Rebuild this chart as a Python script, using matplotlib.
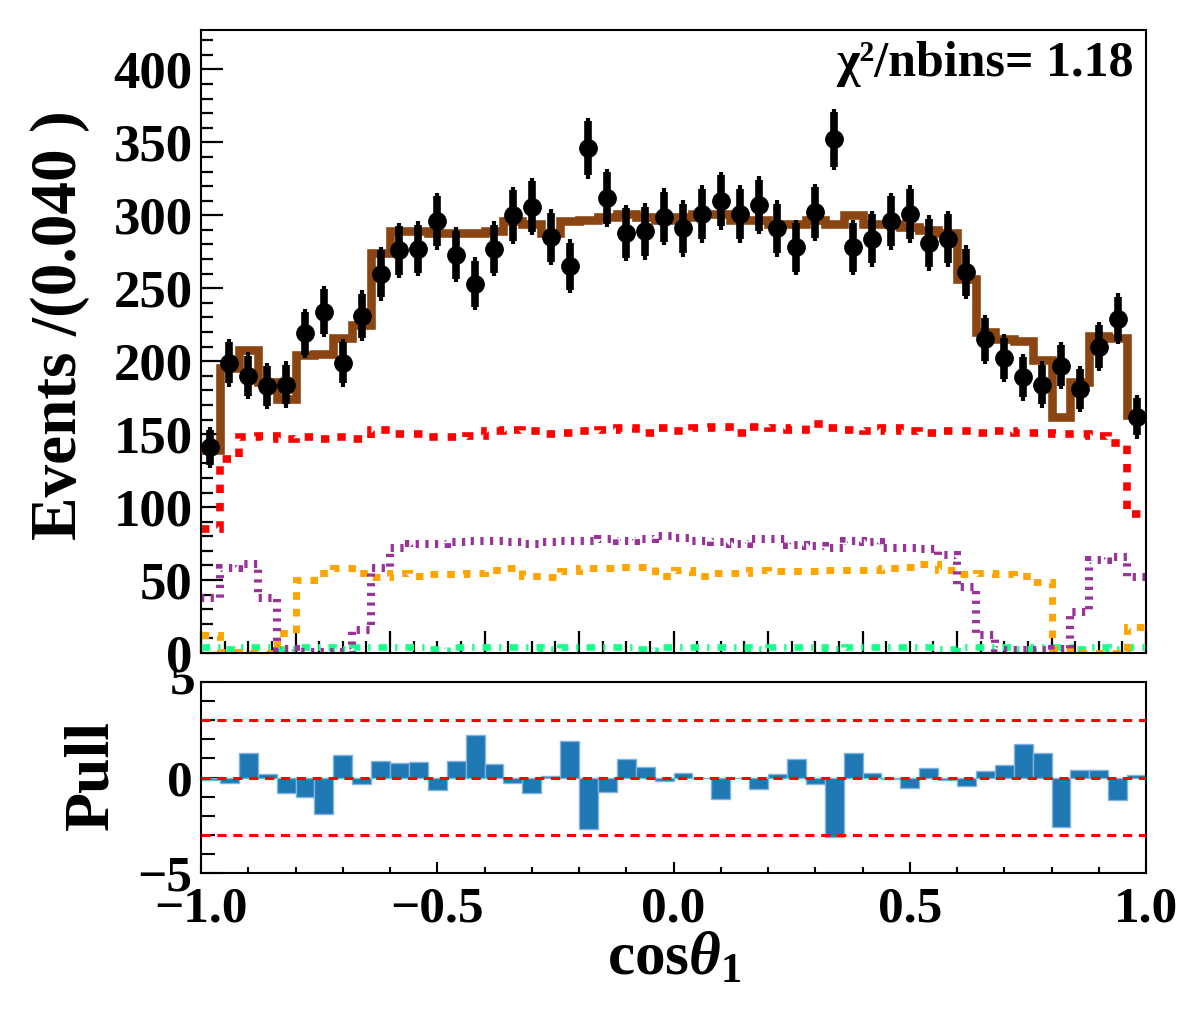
import numpy as np
import matplotlib
matplotlib.use('Agg')
import matplotlib.pyplot as plt
from matplotlib.ticker import MultipleLocator
from matplotlib.transforms import Bbox, TransformedBbox

# 50 bins of width 0.04 in cos(theta1)
edges = np.linspace(-1.0, 1.0, 51)
centers = 0.5 * (edges[:-1] + edges[1:])

data = [141, 199, 190, 183, 184, 219, 234, 199, 231, 260,
        276, 277, 296, 273, 253, 277, 300, 306, 285, 265,
        346, 312, 288, 289, 299, 291, 301, 310, 301, 307,
        291, 278, 302, 352, 278, 284, 296, 301, 281, 284,
        261, 215, 202, 189, 184, 197, 181, 210, 229, 162]

fit = [139, 195, 208, 186, 174, 204, 205, 216, 225, 274,
       289, 289, 288, 288, 288, 289, 296, 294, 288, 296,
       297, 299, 301, 299, 297, 299, 301, 301, 297, 297,
       294, 294, 297, 294, 300, 294, 294, 292, 290, 288,
       256, 220, 215, 214, 201, 162, 186, 217, 216, 163]

comp_red = [85, 133, 148, 149, 147, 148, 147, 148, 147, 153,
            150, 150, 148, 148, 149, 152, 153, 152, 150, 151,
            152, 153, 154, 151, 154, 152, 154, 155, 151, 155,
            154, 153, 157, 154, 153, 152, 154, 152, 151, 152,
            152, 151, 152, 151, 151, 150, 150, 149, 144, 95]

comp_purple = [38, 58, 61, 38, 3, 1, 1, 1, 16, 58,
               72, 75, 75, 76, 77, 77, 76, 75, 76, 77,
               77, 78, 77, 78, 80, 79, 77, 76, 75, 78,
               78, 74, 73, 72, 77, 76, 72, 72, 71, 67,
               45, 12, 2, 2, 2, 3, 28, 64, 66, 52]

comp_orange = [12, 1, 0, 0, 14, 50, 55, 58, 55, 52,
               55, 53, 54, 54, 55, 57, 58, 53, 52, 56,
               58, 58, 59, 59, 53, 57, 53, 55, 55, 57,
               56, 56, 56, 57, 57, 57, 58, 59, 61, 57,
               54, 55, 54, 53, 49, 3, 0, 0, 0, 18]

comp_green = [4, 3, 4, 4, 3, 4, 4, 3, 4, 4,
              4, 4, 3, 4, 4, 4, 4, 4, 3, 4,
              4, 4, 4, 3, 4, 4, 4, 4, 4, 3,
              4, 4, 4, 3, 4, 4, 4, 4, 4, 3,
              4, 4, 4, 3, 4, 4, 3, 4, 3, 4]

pull = [-0.15, -0.3, 1.3, 0.2, -0.8, -1.0, -1.9, 1.2, -0.33, 0.87,
        0.78, 0.8, -0.68, 0.87, 2.2, 0.7, -0.3, -0.8, 0.1, 1.9,
        -2.7, -0.75, 0.95, 0.55, -0.2, 0.22, -0.05, -1.15, -0.02, -0.62,
        0.2, 0.97, -0.35, -3.1, 1.3, 0.22, -0.08, -0.55, 0.52, -0.14,
        -0.47, 0.35, 0.68, 1.75, 1.3, -2.6, 0.38, 0.4, -1.18, 0.12]

plt.rcParams['font.family'] = 'Liberation Serif'
plt.rcParams['font.weight'] = 'bold'
plt.rcParams['mathtext.fontset'] = 'custom'
plt.rcParams['mathtext.rm'] = 'Liberation Serif:bold'
plt.rcParams['mathtext.bf'] = 'Liberation Serif:bold'
plt.rcParams['mathtext.it'] = 'Liberation Serif:italic:bold'

W, H = 1182, 1009
fig = plt.figure(figsize=(W / 100, H / 100), dpi=100)

def box(l, t, r, b):
    return [l / W, 1 - b / H, (r - l) / W, (b - t) / H]

ax2 = fig.add_axes(box(201, 682, 1146, 873))
ax = fig.add_axes(box(201, 30, 1146, 653))

# main panel
data = np.array(data, dtype=float)
err = np.sqrt(data)
ax.stairs(comp_green, edges, baseline=None, color='#1aff8c', lw=4.8,
          ls=(0, (1.3, 1.2, 0.35, 1.2)), zorder=2)
ax.stairs(comp_orange, edges, baseline=None, color='#ffa500', lw=5,
          ls=(0, (1.1, 1.3)), zorder=2)
ax.stairs(comp_purple, edges, baseline=None, color='#993399', lw=5.8,
          ls=(0, (0.4, 0.8)), zorder=2)
ax.stairs(comp_red, edges, baseline=None, color='#ff0000', lw=5.5,
          ls=(0, (1.1, 1.3)), zorder=2)
ax.stairs(fit, edges, baseline=None, color='#8b4513', lw=6.2, zorder=3)
ax.vlines(centers, data - err - 2.3, data + err + 2.3, color='k', lw=3, zorder=4)
ax.errorbar(centers, data, yerr=err, fmt='o', color='k', ms=12.5,
            elinewidth=5.5, capsize=0, zorder=5)

ax.set_xlim(-1, 1)
ax.set_ylim(0, 427)
ax.yaxis.set_major_locator(MultipleLocator(50))
ax.yaxis.set_minor_locator(MultipleLocator(10))
ax.xaxis.set_major_locator(MultipleLocator(0.2))
ax.xaxis.set_minor_locator(MultipleLocator(0.05))
ax.tick_params(axis='both', which='both', direction='in', width=1.6,
               top=False, right=False)
ax.tick_params(axis='y', which='major', length=16, labelsize=38, pad=6)
ax.tick_params(axis='y', which='minor', length=8.5)
ax.tick_params(axis='x', which='major', length=16, labelbottom=False)
ax.tick_params(axis='x', which='minor', length=8.5)
for s in ax.spines.values():
    s.set_linewidth(1.5)

ax.text(0.987, 0.945, 'χ²/nbins= 1.18', transform=ax.transAxes,
        ha='right', va='center', fontsize=36, fontweight='bold')

# pull panel
ax2.bar(centers, pull, width=0.04, color='#1f77b4', edgecolor='#7fb2dc',
        linewidth=1, zorder=2)
for yv in (3, 0, -3):
    ax2.axhline(yv, color='red', ls=(0, (3, 2.2)), lw=2.2, zorder=3)
ax2.set_xlim(-1, 1)
ax2.set_ylim(-5, 5)
ax2.set_xticks([-1.0, -0.5, 0.0, 0.5, 1.0])
ax2.set_xticklabels(['\u22121.0', '\u22120.5', '0.0', '0.5', '1.0'])
ax2.set_yticks([-5, 0, 5])
ax2.set_yticklabels(['\u22125', '0', ''])
ax2.xaxis.set_minor_locator(MultipleLocator(0.1))
ax2.yaxis.set_minor_locator(MultipleLocator(1))
ax2.tick_params(axis='both', which='both', direction='in', width=1.5,
                top=False, right=False)
ax2.tick_params(axis='x', which='major', length=8, labelsize=37, pad=10)
ax2.tick_params(axis='x', which='minor', length=4)
ax2.tick_params(axis='y', which='major', length=16, labelsize=37, pad=6)
ax2.tick_params(axis='y', which='minor', length=10)
for s in ax2.spines.values():
    s.set_linewidth(1.5)

# the top "5" of the pull axis is partly hidden under the main panel
clip = TransformedBbox(Bbox([[0, 0], [1, 1 - 671 / H]]), fig.transFigure)
five = fig.text(195 / W, 1 - 682 / H, '5', ha='right', va='center',
                fontsize=37, fontweight='bold')
five.set_clip_box(clip)
five.set_clip_on(True)

fig.text(60 / W, 1 - 325 / H, 'Events /(0.040 )', rotation=90,
         ha='center', va='center', fontsize=47, fontweight='bold')
fig.text(92 / W, 1 - 775 / H, 'Pull', rotation=90,
         ha='center', va='center', fontsize=46, fontweight='bold')
fig.text(674 / W, 1 - 975 / H, r'cos$\theta_{\mathbf{1}}$',
         ha='center', va='baseline', fontsize=44, fontweight='bold')

fig.savefig('out.png', dpi=100)
